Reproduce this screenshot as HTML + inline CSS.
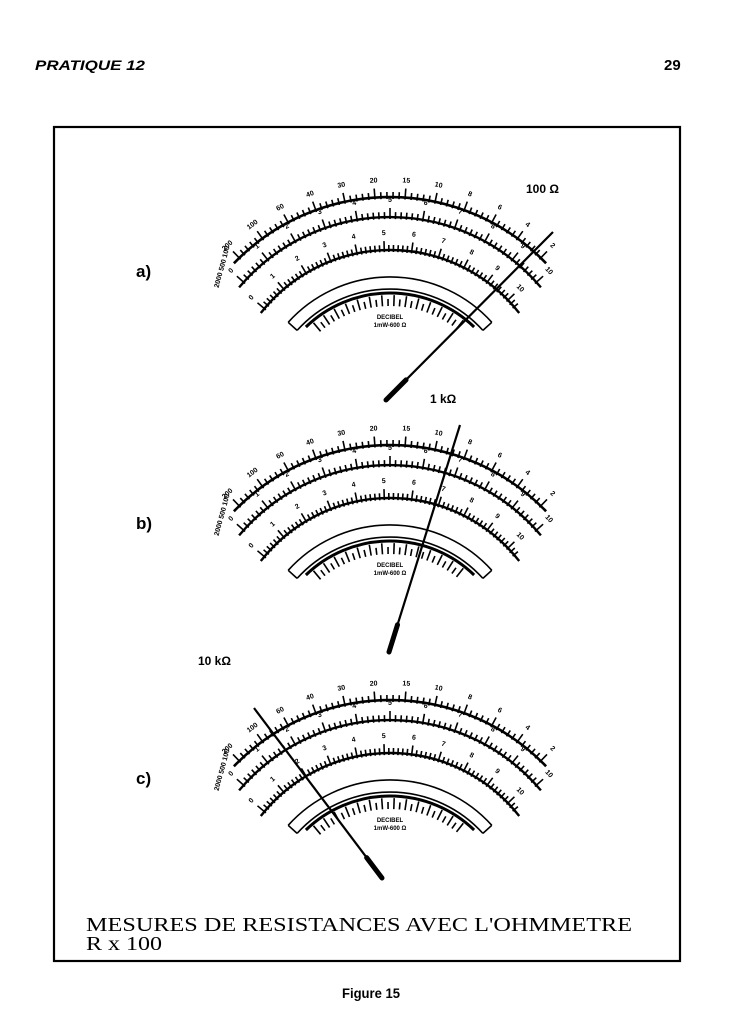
<!DOCTYPE html>
<html><head><meta charset="utf-8"><style>
html,body{margin:0;padding:0;background:#fff;}
body{width:740px;height:1024px;overflow:hidden;position:relative;}
</style></head><body>
<svg id="s" width="740" height="1024" viewBox="0 0 740 1024" xmlns="http://www.w3.org/2000/svg" font-family="Liberation Sans, sans-serif">
<rect width="740" height="1024" fill="#fff"/>
<text x="35" y="70" font-size="14" font-style="italic" font-weight="bold" textLength="110" lengthAdjust="spacingAndGlyphs">PRATIQUE 12</text>
<text x="664" y="70" font-size="15" font-weight="bold">29</text>
<rect x="54" y="127" width="626" height="834" fill="none" stroke="#000" stroke-width="2.2"/>
<text x="86" y="931" font-family="Liberation Serif, serif" font-size="20" textLength="546" lengthAdjust="spacingAndGlyphs">MESURES DE RESISTANCES AVEC L'OHMMETRE</text>
<text x="86" y="950" font-family="Liberation Serif, serif" font-size="20" textLength="76" lengthAdjust="spacingAndGlyphs">R x 100</text>
<text x="342" y="998" font-size="14" font-weight="bold" textLength="58" lengthAdjust="spacingAndGlyphs">Figure 15</text>
<text x="136" y="277" font-size="17" font-weight="bold">a)</text>
<text x="136" y="529" font-size="17" font-weight="bold">b)</text>
<text x="136" y="784" font-size="17" font-weight="bold">c)</text>
<text x="526" y="193" font-size="12" font-weight="bold">100 Ω</text>
<text x="430" y="403" font-size="12" font-weight="bold">1 kΩ</text>
<text x="198" y="665" font-size="12" font-weight="bold">10 kΩ</text>
<g id="m"></g>
</svg>
<script>
var g=document.getElementById('m'),h='';
function P(cx,cy,r,a){var t=a*Math.PI/180;return [cx+r*Math.sin(t),cy-r*Math.cos(t)];}
function arc(cx,cy,r,a0,a1,w){var p=P(cx,cy,r,a0),q=P(cx,cy,r,a1);return '<path d="M'+p[0].toFixed(1)+' '+p[1].toFixed(1)+' A'+r+' '+r+' 0 0 1 '+q[0].toFixed(1)+' '+q[1].toFixed(1)+'" fill="none" stroke="#000" stroke-width="'+w+'"/>';}
function ticks(cx,cy,r,a0,a1,st,maj,lab){var s='',i=0;for(var a=a0;a<=a1+0.01;a+=st,i++){var L=(i%maj==0)?9:5;var p=P(cx,cy,r-2,a),q=P(cx,cy,r+L,a);s+='<line x1="'+p[0].toFixed(1)+'" y1="'+p[1].toFixed(1)+'" x2="'+q[0].toFixed(1)+'" y2="'+q[1].toFixed(1)+'" stroke="#000" stroke-width="1.6"/>';
if(lab&&i%maj==0){var k=Math.round(i/maj);if(k<lab.length){var t=P(cx,cy,r+15,a);s+='<text x="'+t[0].toFixed(1)+'" y="'+t[1].toFixed(1)+'" font-size="7" font-weight="bold" text-anchor="middle" transform="rotate('+a.toFixed(1)+' '+t[0].toFixed(1)+' '+t[1].toFixed(1)+')">'+lab[k]+'</text>';}}}return s;}
function meter(dy){var cx=390,cy=414+dy,s='';
s+=arc(cx,cy,217,-46,46,2.6);s+=ticks(cx,cy,217,-44,44,1.6,5,['200','100','60','40','30','20','15','10','8','6','4','2']);
s+=arc(cx,cy,197,-50,50,2.4);s+=ticks(cx,cy,197,-48,48,1.6,6,['0','1','2','3','4','5','6','7','8','9','10']);
s+=arc(cx,cy,164,-52,52,2.4);s+=ticks(cx,cy,164,-50,50,1.6,6,['0','1','2','3','4','5','6','7','8','9','10']);
s+=arc(cx,cy,137,-48,48,1.6);s+=arc(cx,cy,125,-48,48,1.6);
var a=P(cx,cy,137,-48),b=P(cx,cy,125,-48),c=P(cx,cy,137,48),d=P(cx,cy,125,48);
s+='<line x1="'+a[0]+'" y1="'+a[1]+'" x2="'+b[0]+'" y2="'+b[1]+'" stroke="#000" stroke-width="1.6"/><line x1="'+c[0]+'" y1="'+c[1]+'" x2="'+d[0]+'" y2="'+d[1]+'" stroke="#000" stroke-width="1.6"/>';
s+=arc(cx,cy,121,-44,44,3);s+=ticks(cx,cy,110,-40,40,3,2,null);
s+='<text x="'+cx+'" y="'+(cy-95)+'" font-size="6" font-weight="bold" text-anchor="middle">DECIBEL</text><text x="'+cx+'" y="'+(cy-87)+'" font-size="6" font-weight="bold" text-anchor="middle">1mW-600 Ω</text>';
s+='<text x="200" y="'+(cy-150)+'" font-size="7" font-weight="bold" transform="rotate(-75 225 '+(cy-150)+')">2000 500 100</text>';
return s;}
h+=meter(0)+meter(248)+meter(503);
function needle(x1,y1,x2,y2){return '<line x1="'+x1+'" y1="'+y1+'" x2="'+x2+'" y2="'+y2+'" stroke="#000" stroke-width="2.2"/>'+'<line x1="'+x1+'" y1="'+y1+'" x2="'+(x1+(x2-x1)*0.12)+'" y2="'+(y1+(y2-y1)*0.12)+'" stroke="#000" stroke-width="5" stroke-linecap="round"/>';}
h+=needle(386,400,553,232)+needle(389,652,460,425)+needle(382,878,254,708);
g.innerHTML=h;
</script>
</body></html>
